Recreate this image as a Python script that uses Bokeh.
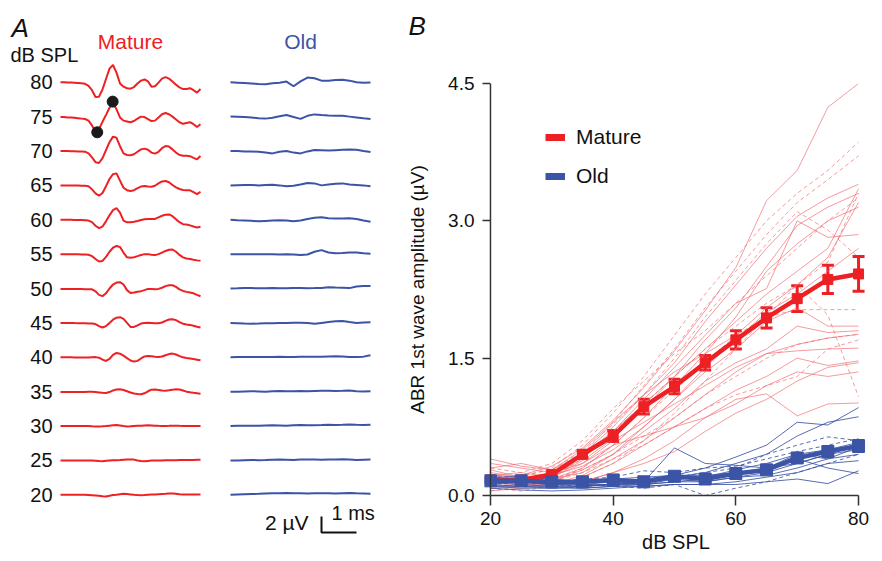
from bokeh.plotting import figure
from bokeh.layouts import row, column
from bokeh.models import (ColumnDataSource, Whisker, TeeHead, FixedTicker, PrintfTickFormatter,
                          Span, Label, Legend, LegendItem, Range1d, Title)
from bokeh.embed import file_html
from bokeh.resources import INLINE
from bokeh.core.properties import value

FONT = "Liberation Sans"
RED = "#ed2024"
BLUE = "#3b54a5"
THIN_RED = "#f0666b"
THIN_BLUE = "#3b54a5"
AXIS = "#333333"

# ---------------- Panel A data: ABR traces (µV) ----------------
levels = [80, 75, 70, 65, 60, 55, 50, 45, 40, 35, 30, 25, 20]
t_mature = [0.0, 0.1, 0.2, 0.3, 0.4, 0.5, 0.6, 0.7, 0.8, 0.9, 1.0, 1.1, 1.2, 1.3, 1.4, 1.5, 1.6, 1.7, 1.8, 1.9,
            2.0, 2.1, 2.2, 2.3, 2.4, 2.5, 2.6, 2.7, 2.8, 2.9, 3.0, 3.1, 3.2, 3.3, 3.4, 3.5, 3.6, 3.7, 3.8, 3.9, 4.0]
t_old = [0.0, 0.2, 0.4, 0.6, 0.8, 1.0, 1.2, 1.4, 1.6, 1.8, 2.0, 2.2, 2.4, 2.6, 2.8, 3.0, 3.2, 3.4, 3.6, 3.8, 4.0]

m80 = [0.0, 0.0, -0.02, -0.03, -0.05, -0.08, -0.12, -0.2, -0.45, -1.0, -1.85, -1.8, -0.9, 0.4, 1.7, 2.15, 1.2, -0.15, -0.55, -0.75,
       -0.8, -0.6, -0.15, 0.2, 0.35, 0.1, -0.55, -0.5, -0.05, 0.45, 0.63, 0.45, 0.1, -0.3, -0.65, -0.85, -0.85, -0.75, -1.0, -1.3, -0.85]
m75 = [-0.05, -0.05, -0.1, -0.12, -0.15, -0.2, -0.25, -0.3, -0.5, -1.1, -1.9, -1.55, -0.65, 0.22, 1.1, 1.8, 0.9, -0.1, -0.5, -0.6,
       -0.7, -0.55, -0.25, 0.0, -0.05, -0.3, -0.55, -0.5, -0.1, 0.3, 0.45, 0.3, 0.0, -0.35, -0.7, -0.9, -0.8, -0.7, -0.95, -1.3, -0.95]
m70 = [0.0, 0.0, 0.0, -0.02, -0.03, -0.05, -0.05, -0.08, -0.3, -0.8, -1.4, -1.5, -0.9, 0.1, 1.1, 1.8, 1.65, 0.6, -0.3, -0.5,
       -0.54, -0.4, -0.1, 0.2, 0.3, 0.15, -0.2, -0.33, -0.1, 0.35, 0.62, 0.55, 0.2, -0.2, -0.5, -0.6, -0.6, -0.65, -0.85, -1.04, -0.63]
m65 = [0.0, 0.0, 0.0, 0.0, -0.02, -0.03, -0.05, -0.05, -0.1, -0.5, -1.0, -1.3, -0.95, -0.1, 0.8, 1.4, 1.5, 0.6, -0.3, -0.6,
       -0.7, -0.6, -0.35, -0.15, -0.08, -0.15, -0.18, -0.05, 0.25, 0.5, 0.54, 0.4, 0.05, -0.25, -0.45, -0.58, -0.6, -0.62, -0.85, -1.1, -0.8]
m60 = [0.0, 0.0, 0.0, 0.0, -0.02, -0.03, -0.04, -0.05, -0.1, -0.3, -0.75, -1.05, -0.85, -0.2, 0.55, 1.2, 1.45, 0.9, -0.1, -0.32,
       -0.3, -0.25, -0.15, -0.02, 0.06, 0.08, 0.08, 0.1, 0.3, 0.5, 0.63, 0.67, 0.45, 0.05, -0.3, -0.55, -0.6, -0.7, -0.85, -0.96, -0.88]
m55 = [0.0, 0.0, 0.0, 0.0, -0.02, -0.02, -0.03, -0.05, -0.08, -0.25, -0.6, -0.92, -0.85, -0.35, 0.3, 0.8, 1.02, 0.9, 0.2, -0.4,
       -0.45, -0.38, -0.25, -0.1, 0.0, 0.0, -0.08, -0.12, 0.0, 0.2, 0.4, 0.55, 0.58, 0.3, -0.1, -0.4, -0.55, -0.6, -0.7, -0.78, -0.84]
m50 = [-0.05, -0.05, -0.05, -0.05, -0.05, -0.06, -0.07, -0.08, -0.08, -0.1, -0.35, -0.8, -0.95, -0.6, 0.0, 0.5, 0.75, 0.79, 0.5, -0.2,
       -0.55, -0.5, -0.4, -0.33, -0.2, -0.05, -0.05, -0.08, -0.05, 0.1, 0.3, 0.4, 0.41, 0.2, -0.1, -0.3, -0.42, -0.5, -0.6, -0.8, -0.96]
m45 = [0.0, 0.0, 0.0, 0.0, -0.02, -0.03, -0.04, -0.05, -0.07, -0.08, -0.15, -0.4, -0.58, -0.4, 0.0, 0.4, 0.65, 0.71, 0.5, 0.0,
       -0.5, -0.5, -0.3, -0.08, 0.0, 0.02, 0.0, -0.03, -0.04, 0.05, 0.25, 0.42, 0.46, 0.35, 0.1, -0.1, -0.2, -0.25, -0.35, -0.48, -0.58]
m40 = [0.0, 0.0, 0.0, 0.0, -0.02, -0.03, -0.03, -0.03, -0.03, 0.0, 0.02, -0.05, -0.3, -0.46, -0.2, 0.3, 0.54, 0.45, 0.2, -0.1,
       -0.4, -0.54, -0.45, -0.15, 0.1, 0.17, 0.12, 0.06, 0.04, 0.1, 0.25, 0.4, 0.46, 0.35, 0.15, 0.0, -0.08, -0.15, -0.22, -0.3, -0.38]
m35 = [-0.04, -0.04, -0.04, -0.04, -0.04, -0.04, -0.04, -0.03, -0.02, -0.02, -0.05, -0.1, -0.15, -0.17, -0.05, 0.15, 0.26, 0.29, 0.2, 0.05,
       -0.1, -0.22, -0.3, -0.33, -0.2, 0.05, 0.25, 0.28, 0.22, 0.14, 0.12, 0.18, 0.25, 0.29, 0.28, 0.15, 0.0, -0.08, -0.15, -0.2, -0.25]
m30 = [0.0, 0.0, 0.0, 0.0, 0.0, 0.0, 0.0, 0.0, 0.0, -0.03, -0.05, -0.05, -0.03, 0.0, 0.05, 0.1, 0.12, 0.08, 0.0, -0.05,
       -0.03, 0.0, 0.03, 0.05, 0.08, 0.1, 0.08, 0.05, 0.03, 0.02, 0.02, 0.03, 0.05, 0.05, 0.03, 0.02, 0.0, 0.0, 0.0, 0.0, 0.0]
m25 = [0.0, 0.0, 0.0, 0.0, 0.0, 0.0, 0.0, 0.0, 0.0, 0.0, -0.03, -0.08, -0.1, -0.05, 0.0, 0.02, 0.03, 0.05, 0.08, 0.1,
       0.12, 0.1, 0.0, -0.08, -0.1, -0.06, -0.02, 0.0, 0.0, 0.0, 0.02, 0.03, 0.03, 0.03, 0.04, 0.05, 0.05, 0.05, 0.06, 0.07, 0.07]
m20 = [0.0, 0.0, 0.0, 0.0, 0.0, 0.0, 0.0, 0.0, -0.02, -0.05, -0.08, -0.12, -0.18, -0.2, -0.12, -0.03, 0.02, 0.08, 0.12, 0.1,
       0.05, 0.0, -0.03, -0.05, -0.03, 0.0, 0.03, 0.05, 0.08, 0.1, 0.12, 0.15, 0.16, 0.12, 0.08, 0.05, 0.05, 0.03, 0.03, 0.03, 0.03]

o80 = [0.0, -0.05, -0.1, -0.16, -0.22, -0.25, -0.12, -0.05, 0.08, -0.5, 0.1, 0.58, 0.5, 0.2, 0.18, 0.28, 0.32, 0.2, 0.0, -0.05, -0.04]
o75 = [0.0, -0.03, -0.06, -0.12, -0.2, -0.25, -0.15, 0.05, 0.2, -0.05, -0.28, 0.1, 0.28, 0.2, 0.15, 0.12, 0.1, 0.0, -0.1, -0.2, -0.29]
o70 = [0.0, 0.0, -0.05, -0.05, -0.1, -0.2, -0.3, -0.1, 0.0, -0.2, -0.3, -0.05, 0.12, 0.1, 0.05, 0.1, 0.15, 0.2, 0.15, 0.0, -0.12]
o65 = [0.0, 0.03, 0.05, 0.05, 0.0, 0.05, 0.08, 0.0, -0.1, -0.05, 0.1, 0.3, 0.25, 0.0, 0.1, 0.2, 0.25, 0.1, 0.05, 0.0, -0.12]
o60 = [0.0, -0.05, -0.08, -0.12, -0.2, -0.15, -0.1, -0.05, -0.1, -0.2, -0.1, 0.1, 0.25, 0.3, 0.2, 0.15, 0.15, 0.2, 0.1, -0.1, -0.25]
o55 = [0.0, 0.0, 0.0, -0.02, 0.0, 0.0, 0.0, -0.03, 0.0, -0.05, -0.12, -0.05, 0.3, 0.5, 0.2, 0.1, 0.15, 0.22, 0.2, 0.1, 0.05]
o50 = [0.0, 0.02, 0.05, 0.05, 0.03, 0.03, 0.05, 0.03, 0.03, 0.05, 0.05, 0.03, 0.05, 0.08, 0.15, 0.12, 0.1, 0.05, 0.25, 0.3, 0.3]
o45 = [0.0, -0.03, -0.08, -0.1, -0.08, -0.05, -0.03, 0.0, 0.0, 0.02, 0.03, 0.0, -0.1, 0.0, 0.1, 0.2, 0.25, 0.1, 0.0, 0.05, 0.08]
o40 = [0.0, 0.03, 0.05, 0.05, 0.05, 0.03, 0.05, 0.08, 0.05, 0.05, 0.08, 0.08, 0.08, 0.08, 0.1, 0.12, 0.1, 0.05, 0.05, 0.08, 0.25]
o35 = [0.0, 0.0, 0.03, 0.05, 0.03, 0.0, 0.05, 0.08, 0.05, 0.05, 0.08, 0.05, 0.08, 0.1, 0.12, 0.08, 0.1, 0.15, 0.05, 0.03, 0.05]
o30 = [0.0, 0.03, 0.05, 0.05, 0.05, 0.08, 0.1, 0.08, 0.05, 0.1, 0.12, 0.1, 0.1, 0.12, 0.15, 0.12, 0.15, 0.2, 0.15, 0.12, 0.15]
o25 = [0.0, 0.0, 0.03, 0.05, 0.03, 0.05, 0.08, 0.1, 0.08, 0.05, 0.1, 0.12, 0.1, 0.08, 0.1, 0.12, 0.15, 0.1, 0.05, 0.08, 0.1]
o20 = [0.0, 0.05, 0.08, 0.1, 0.12, 0.15, 0.18, 0.2, 0.22, 0.2, 0.18, 0.15, 0.18, 0.2, 0.18, 0.15, 0.2, 0.22, 0.18, 0.15, 0.12]

mature_traces = [m80, m75, m70, m65, m60, m55, m50, m45, m40, m35, m30, m25, m20]
old_traces = [o80, o75, o70, o65, o60, o55, o50, o45, o40, o35, o30, o25, o20]

# wave I trough / peak marked on the 75 dB mature trace (ms, µV)
marker_t = [1.05, 1.49]
marker_v = [-1.96, 1.875]

scale_uv = 2   # vertical scale bar
scale_ms = 1   # horizontal scale bar

# ---------------- Panel B data: wave I amplitude (µV) ----------------
db = [20, 25, 30, 35, 40, 45, 50, 55, 60, 65, 70, 75, 80]
mature_mean = [0.17, 0.17, 0.23, 0.45, 0.65, 0.97, 1.19, 1.45, 1.70, 1.94, 2.15, 2.36, 2.42]
mature_sem = [0.02, 0.02, 0.03, 0.04, 0.06, 0.08, 0.08, 0.08, 0.10, 0.11, 0.14, 0.155, 0.19]
old_mean = [0.16, 0.16, 0.15, 0.15, 0.17, 0.15, 0.21, 0.18, 0.24, 0.28, 0.41, 0.48, 0.54]
old_sem = [0.02, 0.02, 0.02, 0.02, 0.02, 0.02, 0.03, 0.03, 0.03, 0.04, 0.05, 0.05, 0.06]

mature_solid = [
    [0.15, 0.22, 0.32, 0.52, 0.82, 1.18, 1.58, 2.02, 2.49, 3.22, 3.55, 4.24, 4.50],
    [0.20, 0.18, 0.25, 0.45, 0.75, 1.10, 1.45, 1.90, 2.30, 2.70, 3.05, 3.25, 3.40],
    [0.12, 0.15, 0.20, 0.38, 0.62, 0.95, 1.30, 1.70, 2.05, 2.50, 2.95, 3.15, 3.30],
    [0.25, 0.20, 0.22, 0.40, 0.70, 1.05, 1.40, 1.75, 2.10, 2.26, 3.00, 2.82, 2.85],
    [0.10, 0.12, 0.18, 0.30, 0.55, 0.85, 1.20, 1.55, 1.95, 2.45, 2.75, 3.00, 3.15],
    [0.30, 0.35, 0.28, 0.50, 0.80, 1.10, 1.35, 1.55, 1.75, 2.05, 2.30, 2.60, 3.20],
    [0.18, 0.14, 0.15, 0.28, 0.45, 0.70, 0.95, 1.25, 1.45, 1.60, 1.85, 1.78, 1.80],
    [0.08, 0.10, 0.12, 0.22, 0.40, 0.60, 0.85, 1.10, 1.35, 1.55, 1.65, 1.72, 1.76],
    [0.22, 0.25, 0.20, 0.35, 0.60, 0.80, 1.00, 1.20, 1.40, 1.55, 1.58, 1.60, 1.61],
    [0.15, 0.12, 0.10, 0.20, 0.35, 0.55, 0.75, 0.95, 1.15, 1.30, 1.50, 1.42, 1.47],
    [0.35, 0.30, 0.25, 0.35, 0.55, 0.65, 0.75, 0.85, 1.00, 1.20, 1.35, 1.30, 1.35],
    [0.05, 0.08, 0.10, 0.15, 0.25, 0.40, 0.60, 0.85, 1.05, 1.11, 0.87, 1.00, 1.01],
    [0.28, 0.20, 0.18, 0.25, 0.45, 0.75, 1.05, 1.35, 1.60, 1.90, 2.05, 1.85, 1.85],
    [0.12, 0.18, 0.22, 0.32, 0.50, 0.75, 1.05, 1.40, 1.70, 2.00, 2.20, 2.45, 2.70],
    [0.10, 0.12, 0.12, 0.15, 0.25, 0.35, 0.48, 0.70, 0.90, 1.05, 1.25, 1.40, 1.45],
    [0.40, 0.32, 0.28, 0.45, 0.70, 1.00, 1.30, 1.60, 1.90, 2.20, 2.45, 2.70, 3.35],
]
mature_dashed = [
    [0.18, 0.20, 0.30, 0.55, 0.90, 1.30, 1.75, 2.20, 2.60, 3.00, 3.30, 3.55, 3.86],
    [0.12, 0.15, 0.25, 0.45, 0.80, 1.20, 1.60, 2.05, 2.45, 2.85, 3.20, 3.45, 3.71],
    [0.20, 0.22, 0.28, 0.48, 0.78, 1.10, 1.50, 1.95, 2.35, 2.75, 3.10, 2.90, 2.60],
    [0.05, 0.10, 0.15, 0.30, 0.55, 0.85, 1.15, 1.45, 1.75, 1.95, 2.03, 2.03, 2.03],
    [0.15, 0.12, 0.20, 0.40, 0.70, 1.00, 1.30, 1.60, 1.85, 2.10, 2.30, 1.97, 1.08],
    [0.10, 0.15, 0.18, 0.28, 0.45, 0.65, 0.85, 1.10, 1.30, 1.50, 1.65, 1.72, 1.76],
    [0.22, 0.18, 0.15, 0.25, 0.40, 0.55, 0.75, 0.95, 1.10, 1.20, 1.30, 1.60, 1.70],
    [0.08, 0.05, 0.10, 0.20, 0.35, 0.60, 0.90, 1.25, 1.60, 1.95, 2.30, 2.55, 3.30],
    [0.30, 0.25, 0.35, 0.60, 0.95, 1.25, 1.55, 1.80, 2.10, 2.40, 2.70, 3.00, 3.25],
]
old_solid = [
    [0.18, 0.15, 0.12, 0.12, 0.15, 0.18, 0.22, 0.30, 0.42, 0.55, 0.80, 0.77, 0.96],
    [0.12, 0.10, 0.10, 0.10, 0.12, 0.15, 0.20, 0.25, 0.35, 0.45, 0.65, 0.80, 0.86],
    [0.20, 0.18, 0.15, 0.12, 0.12, 0.15, 0.52, 0.35, 0.33, 0.30, 0.35, 0.45, 0.55],
    [0.10, 0.08, 0.08, 0.10, 0.12, 0.12, 0.15, 0.18, 0.22, 0.30, 0.45, 0.40, 0.53],
    [0.14, 0.12, 0.10, 0.08, 0.10, 0.12, 0.15, 0.15, 0.20, 0.25, 0.35, 0.45, 0.50],
    [0.18, 0.15, 0.12, 0.15, 0.18, 0.20, 0.22, 0.22, 0.25, 0.30, 0.40, 0.30, 0.24],
    [0.08, 0.06, 0.05, 0.06, 0.08, 0.10, 0.12, 0.12, 0.15, 0.20, 0.25, 0.35, 0.38],
    [0.10, 0.10, 0.08, 0.08, 0.10, 0.10, 0.12, 0.12, 0.12, 0.15, 0.18, 0.13, 0.27],
    [0.16, 0.14, 0.12, 0.10, 0.12, 0.14, 0.18, 0.20, 0.28, 0.35, 0.45, 0.50, 0.58],
    [0.22, 0.20, 0.18, 0.15, 0.15, 0.12, 0.18, 0.15, 0.20, 0.22, 0.30, 0.40, 0.45],
]
old_dashed = [
    [0.15, 0.15, 0.12, 0.10, 0.12, 0.15, 0.20, 0.25, 0.30, 0.45, 0.55, 0.64, 0.60],
    [0.12, 0.15, 0.18, 0.12, 0.10, 0.08, 0.12, 0.00, 0.08, 0.15, 0.25, 0.35, 0.45],
    [0.20, 0.16, 0.14, 0.18, 0.20, 0.27, 0.25, 0.30, 0.32, 0.40, 0.48, 0.55, 0.62],
]

y_ticks = [0.0, 1.5, 3.0, 4.5]
x_ticks = [20, 40, 60, 80]

H = 561

# ---------------- Panel A figure ----------------
PX_MS = 35.0      # px per ms
PX_UV = 8.0       # px per µV
A_W = 404
OX, OY = 60.0, 494.3            # screen position of the 20 dB trace start
x0 = -OX / PX_MS
y0 = -(H - OY) / PX_UV
pA = figure(width=A_W, height=H, output_backend="svg", toolbar_location=None, title=None,
            x_range=Range1d(x0, x0 + A_W / PX_MS), y_range=Range1d(y0, y0 + H / PX_UV),
            x_axis_type=None, y_axis_type=None, min_border=0)
pA.outline_line_color = None

row_step = 34.38 / PX_UV
old_shift = 170 / PX_MS
bases = [(lv - 20) / 5 * row_step for lv in levels]

for base, mt, ot in zip(bases, mature_traces, old_traces):
    pA.line(t_mature, [v + base for v in mt], line_color=RED, line_width=2)
    pA.line([t + old_shift for t in t_old], [v + base for v in ot], line_color=BLUE, line_width=2)

base75 = bases[levels.index(75)]
pA.scatter(marker_t, [v + base75 for v in marker_v], size=11, color="#1a1a1a")

pA.text(x=[-8 / PX_MS] * len(levels), y=bases, text=[str(l) for l in levels],
        text_align="right", text_baseline="middle", text_font=value(FONT),
        text_font_size="20px", text_color="#111111")


def lab(p, x, y, text, size, color="#111111", align="left", style="normal"):
    p.add_layout(Label(x=x, y=y, text=text, text_font=FONT, text_font_size=size, text_color=color,
                       text_align=align, text_baseline="middle", text_font_style=style))


def sx(px):
    return (px - OX) / PX_MS


def sy(py):
    return (OY - py) / PX_UV


lab(pA, sx(11), sy(27), "A", "26px", style="italic")
lab(pA, sx(10), sy(54), "dB SPL", "20px")
lab(pA, 2.0, sy(41.3), "Mature", "21px", color=RED, align="center")
lab(pA, 2.0 + old_shift, sy(41.3), "Old", "21px", color=BLUE, align="center")

# scale bar
sb_x = sx(321)
sb_y = sy(532)
pA.line([sb_x, sb_x, sb_x + scale_ms], [sb_y + scale_uv, sb_y, sb_y], line_color="#111111", line_width=2)
lab(pA, sx(308), sy(522), "%d µV" % scale_uv, "21px", align="right")
lab(pA, sx(331), sy(512.5), "%d ms" % scale_ms, "20px")

# ---------------- Panel B figure ----------------
PX_DB = 370 / 60.0
PX_AMP = 412 / 4.5
B_W = 882 - A_W
LB, RB, TB, BB = 78, 15, 83, H - 495
xs0 = 20 - 6 / PX_DB
xs1 = xs0 + (B_W - LB - RB) / PX_DB
pB = figure(width=B_W, height=H, output_backend="svg", toolbar_location=None, title=None,
            x_range=Range1d(xs0, xs1), y_range=Range1d(0, 4.5),
            min_border_left=LB, min_border_right=RB, min_border_top=TB, min_border_bottom=BB)
pB.outline_line_color = None
pB.xgrid.visible = False
pB.ygrid.visible = False

# blank spacer title next to the frame, then the panel letter above it
pB.add_layout(Title(text=" ", text_font=FONT, text_font_size="10px", standoff=18), "above")
pB.add_layout(Title(text="B", text_font=FONT, text_font_size="26px", text_font_style="italic",
                    text_color="#111111", align="left", vertical_align="top",
                    offset=406 - (404 + LB), standoff=20), "above")

xa = pB.xaxis[0]
xa.ticker = FixedTicker(ticks=x_ticks)
xa.bounds = (20, 80)
xa.axis_line_color = AXIS
xa.axis_line_width = 1.5
xa.major_tick_line_color = AXIS
xa.major_tick_line_width = 1.5
xa.major_tick_out = 10
xa.major_tick_in = 0
xa.minor_tick_out = 0
xa.minor_tick_in = 0
xa.major_label_standoff = 6
xa.major_label_text_font = FONT
xa.major_label_text_font_size = "19px"
xa.major_label_text_color = "#111111"
xa.axis_label = "dB SPL"
xa.axis_label_text_font = FONT
xa.axis_label_text_font_size = "20px"
xa.axis_label_text_font_style = "normal"
xa.axis_label_text_color = "#111111"
xa.axis_label_standoff = 3

ya = pB.yaxis[0]
ya.ticker = FixedTicker(ticks=y_ticks)
ya.formatter = PrintfTickFormatter(format="%.1f")
ya.axis_line_color = None
ya.major_tick_line_color = AXIS
ya.major_tick_line_width = 1.5
ya.major_tick_in = 6
ya.major_tick_out = 2
ya.minor_tick_out = 0
ya.minor_tick_in = 0
ya.major_label_standoff = 8
ya.major_label_text_font = FONT
ya.major_label_text_font_size = "19px"
ya.major_label_text_color = "#111111"
ya.axis_label = "ABR 1st wave amplitude (µV)"
ya.axis_label_text_font = FONT
ya.axis_label_text_font_size = "19px"
ya.axis_label_text_font_style = "normal"
ya.axis_label_text_color = "#111111"
ya.axis_label_standoff = 17

pB.add_layout(Span(location=20, dimension="height", line_color=AXIS, line_width=1.5))

pB.multi_line(xs=[db] * len(mature_solid), ys=mature_solid, line_color=THIN_RED, line_width=1, line_alpha=0.65)
pB.multi_line(xs=[db] * len(mature_dashed), ys=mature_dashed, line_color=THIN_RED, line_width=1,
              line_alpha=0.65, line_dash="4 3")
pB.multi_line(xs=[db] * len(old_solid), ys=old_solid, line_color=THIN_BLUE, line_width=1, line_alpha=0.85)
pB.multi_line(xs=[db] * len(old_dashed), ys=old_dashed, line_color=THIN_BLUE, line_width=1,
              line_alpha=0.85, line_dash="4 3")

src_m = ColumnDataSource(dict(x=db, y=mature_mean,
                              lo=[m - s for m, s in zip(mature_mean, mature_sem)],
                              hi=[m + s for m, s in zip(mature_mean, mature_sem)]))
src_o = ColumnDataSource(dict(x=db, y=old_mean,
                              lo=[m - s for m, s in zip(old_mean, old_sem)],
                              hi=[m + s for m, s in zip(old_mean, old_sem)]))

pB.line("x", "y", source=src_m, line_color=RED, line_width=4.5)
pB.scatter("x", "y", source=src_m, marker="square", size=10, color=RED)
pB.add_layout(Whisker(source=src_m, base="x", upper="hi", lower="lo", line_color=RED, line_width=3,
                      upper_head=TeeHead(size=12, line_color=RED, line_width=3),
                      lower_head=TeeHead(size=12, line_color=RED, line_width=3)))
pB.line("x", "y", source=src_o, line_color=BLUE, line_width=4.5)
pB.scatter("x", "y", source=src_o, marker="square", size=12, color=BLUE)
pB.add_layout(Whisker(source=src_o, base="x", upper="hi", lower="lo", line_color=BLUE, line_width=3,
                      upper_head=TeeHead(size=12, line_color=BLUE, line_width=3),
                      lower_head=TeeHead(size=12, line_color=BLUE, line_width=3)))

# legend swatches: single-point lines draw nothing in the plot, only in the legend
leg_m = pB.line(x=db[:1], y=mature_mean[:1], line_color=RED, line_width=7)
leg_o = pB.line(x=db[:1], y=old_mean[:1], line_color=BLUE, line_width=7)
legend = Legend(items=[LegendItem(label="Mature", renderers=[leg_m]),
                       LegendItem(label="Old", renderers=[leg_o])],
                location=(61, 307), glyph_width=20, glyph_height=20, label_height=20, spacing=15,
                padding=0, margin=0, border_line_color=None, background_fill_alpha=0,
                label_standoff=11, label_text_font=FONT, label_text_font_size="21px",
                label_text_color="#111111")
pB.add_layout(legend)

layout = row(column(pA), column(pB), spacing=0)
open("out.html", "w").write(file_html(layout, INLINE))
